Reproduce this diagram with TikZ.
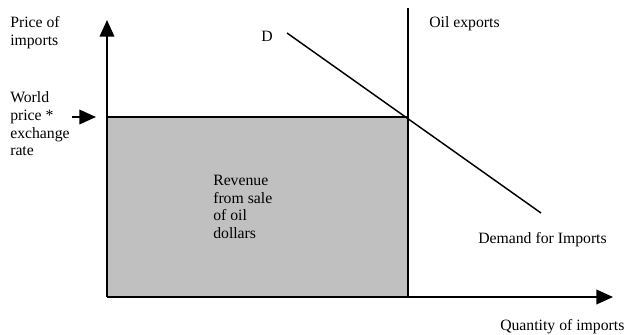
\documentclass[tikz,border=0pt]{standalone}
\usepackage{fontspec}
\setmainfont{Liberation Serif}
\usetikzlibrary{arrows.meta}
\definecolor{revgray}{RGB}{192,192,192}

\begin{document}
\begin{tikzpicture}[x=0.75pt,y=-0.75pt,>={Triangle[length=12.5pt,width=11pt]},
        lbl/.style={inner sep=0pt,align=left,font=\fontsize{11.8}{13.3}\selectfont}]
        \useasboundingbox (0,0) rectangle (628,335);
        \coordinate (O) at (107,297);
        \coordinate (Ytop) at (107,20);
        \coordinate (Xend) at (613,297);
        \coordinate (W) at (107,117);
        \coordinate (E) at (408,117);
        \coordinate (Q) at (408,297);
        \coordinate (Etop) at (408,8);
        \coordinate (D1) at (287,33);
        \coordinate (D2) at (541,213);
        \coordinate (wa) at (72,117);
        \coordinate (wb) at (96,117);
        \fill[revgray] (W) rectangle (Q);
        \draw[line width=1.2pt] (W) -- (E);
        \draw[line width=1.2pt] (Etop) -- (Q);
        \draw[line width=1.1pt] (D1) -- (D2);
        \draw[line width=1.3pt,->] (O) -- (Ytop);
        \draw[line width=1.3pt,->] (O) -- (Xend);
        \draw[line width=1.2pt,->] (wa) -- (wb);
        \node[lbl,anchor=west] (price) at (10,33) {Price of\\imports};
        \node[lbl,anchor=west] (world) at (10,124) {World\\price *\\exchange\\rate};
        \node[lbl] (dlbl) at (267,36) {D};
        \node[lbl,anchor=west] (oil) at (429,24) {Oil exports};
        \node[lbl,anchor=west] (rev) at (213,207) {Revenue\\from sale\\of oil\\dollars};
        \node[lbl,anchor=west] (demand) at (478,240) {Demand for Imports};
        \node[lbl,anchor=west] (qty) at (500,327) {Quantity of imports};
    \end{tikzpicture}
\end{document}
